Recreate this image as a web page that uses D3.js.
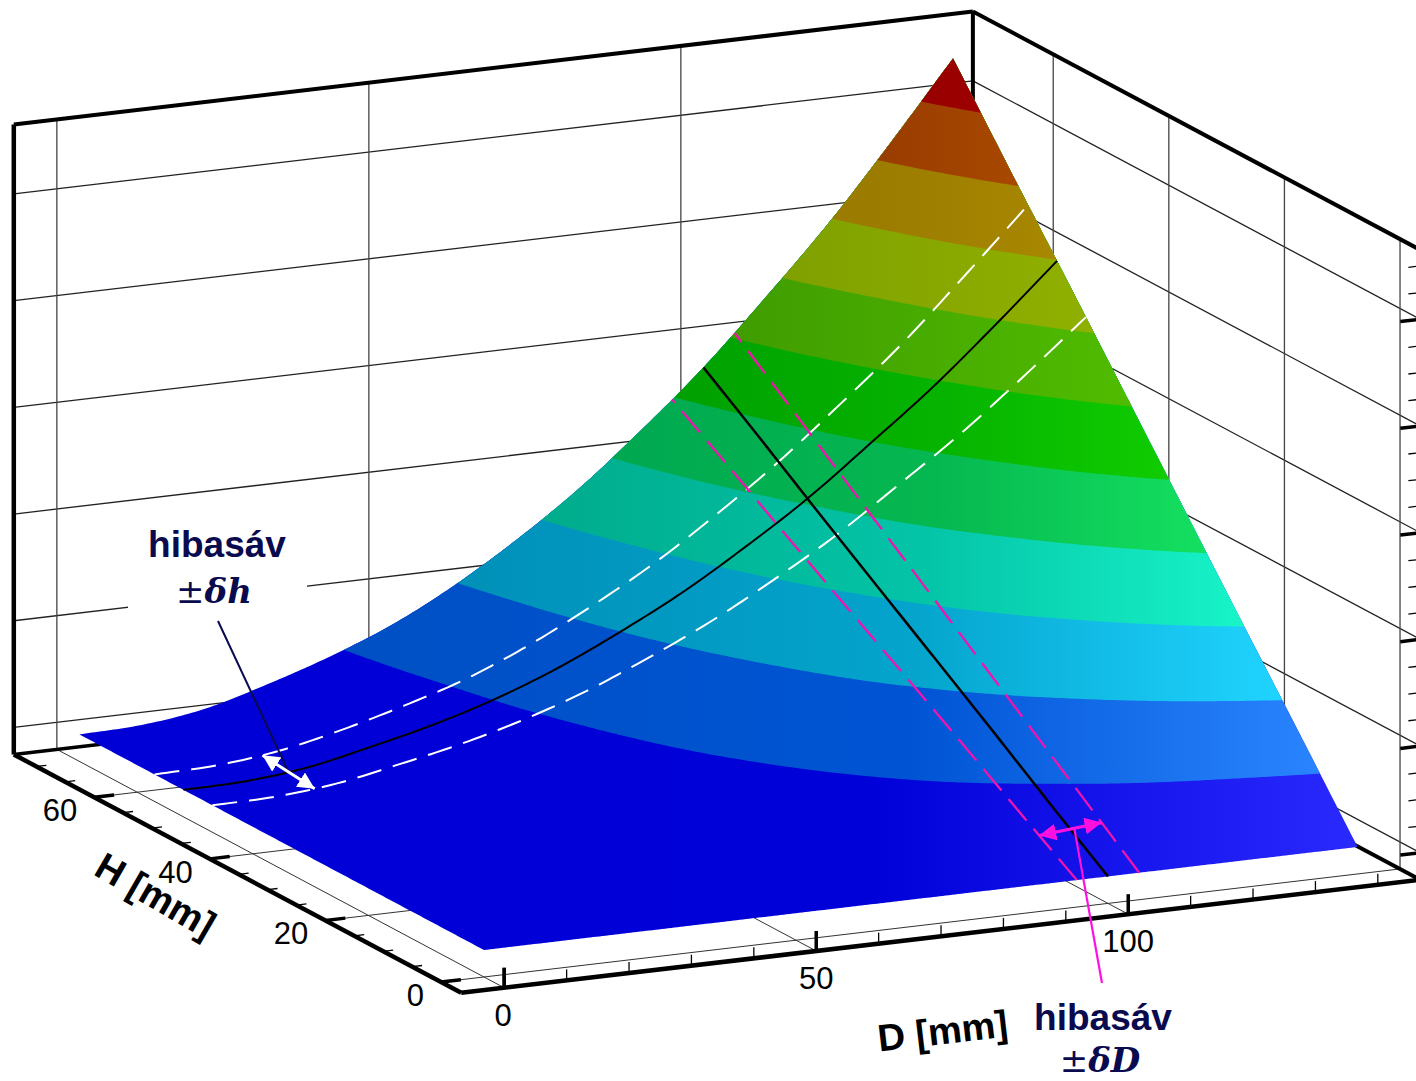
<!DOCTYPE html>
<html lang="en">
<head>
<meta charset="UTF-8">
<title>Hibasav surface</title>
<script src="https://cdn.jsdelivr.net/npm/d3@7"></script>
<style>
    html, body { margin: 0; background: #fff; }
    svg { display: block; }
    text { font-family: "Liberation Sans", Arial, sans-serif; fill: #000; }
    .note { fill: #0a0a4e; font-weight: bold; font-size: 37px; text-anchor: middle; }
    .math { font-family: "DejaVu Serif", serif; font-size: 34px; }
</style>
</head>
<body>
<div id="out01"></div>
<script>
// surface height, one row per H, one column per D
const D_VALUES = [0, 10, 20, 30, 40, 50, 60, 70, 80, 90, 100, 110, 120, 130, 140];
const H_VALUES = [0, 10, 20, 30, 40, 50, 60, 70];
const Z_H0  = [0, 0, 0, 0, 0, 0, 0, 0, 0, 0, 0, 0, 0, 0, 0];
const Z_H10 = [0, 0, .01, .04, .06, .10, .14, .19, .25, .32, .39, .48, .57, .66, .77];
const Z_H20 = [0, .01, .03, .07, .13, .19, .28, .38, .50, .64, .79, .95, 1.13, 1.33, 1.53];
const Z_H30 = [0, .01, .04, .11, .19, .29, .42, .57, .75, .96, 1.18, 1.43, 1.70, 1.99, 2.30];
const Z_H40 = [0, .01, .06, .15, .26, .39, .56, .77, 1.00, 1.27, 1.57, 1.91, 2.26, 2.66, 3.07];
const Z_H50 = [0, .01, .07, .19, .32, .49, .70, .96, 1.25, 1.59, 1.96, 2.39, 2.83, 3.32, 3.84];
const Z_H60 = [0, .02, .09, .22, .39, .58, .84, 1.15, 1.50, 1.91, 2.36, 2.86, 3.39, 3.99, 4.60];
const Z_H70 = [0, .02, .10, .26, .45, .68, .98, 1.34, 1.75, 2.23, 2.75, 3.34, 3.96, 4.65, 5.37];
const Z_ROWS = [Z_H0, Z_H10, Z_H20, Z_H30, Z_H40, Z_H50, Z_H60, Z_H70];

// contour levels and the colour of each band, left, middle and lit right side
const LEVELS = [-1, .5, 1, 1.5, 2, 2.5, 3, 3.5, 4, 4.5, 5];
const BAND_LEFT  = ["#0000d6", "#0050c4", "#0090b8", "#00ac8c", "#00a850", "#00a000", "#409c00", "#80a000", "#9a7a00", "#983c00", "#960000"];
const BAND_MID   = ["#0000d8", "#0054d4", "#04a4cc", "#04c4a8", "#06b850", "#06b400", "#48ac00", "#88a800", "#a08000", "#a04200", "#9a0000"];
const BAND_RIGHT = ["#2a2aff", "#2a84ff", "#20d4ff", "#18f4c8", "#14e060", "#10cc00", "#50bc00", "#90b000", "#a88800", "#a84800", "#a00000"];
const BAND_KNEE  = [.62, .58, .55, .55, .55, .55, .5, .5, .5, .5, .5];

// axis box limits and ticks
const D_RANGE = [-6.9, 146.8];
const H_RANGE = [-3.5, 73.9];
const Z_RANGE = [-.253, 5.65];
const D_MAJOR = [0, 50, 100];
const D_MINOR = [0, 10, 20, 30, 40, 60, 70, 80, 90, 110, 120, 130, 140];
const H_MAJOR = [0, 20, 40, 60];
const H_MINOR = [5, 10, 15, 25, 30, 35, 45, 50, 55, 65, 70];
const Z_MAJOR = [0, 1, 2, 3, 4, 5];
const Z_MINOR = [.25, .5, .75, 1.25, 1.5, 1.75, 2.25, 2.5, 2.75, 3.25, 3.5, 3.75, 4.25, 4.5, 4.75, 5.25, 5.5];

// lines on the surface
const H_LINE = 52, H_BAND = [47, 57];
const D_LINE = 100, D_BAND = [95, 105];

const width = 1416, height = 1081;
const ORIGIN = [484, 977];

// affine view of the box, each axis has its own x and y screen shift
const xOfD = d3.scaleLinear().domain([0, 100]).range([0, 624]);
const yOfD = d3.scaleLinear().domain([0, 100]).range([0, -73.6]);
const xOfH = d3.scaleLinear().domain([0, 60]).range([0, -346.8]);
const yOfH = d3.scaleLinear().domain([0, 60]).range([0, -184.8]);
const yOfZ = d3.scaleLinear().domain([0, 5]).range([-27, -560.5]);

const project = (d, h, z) => [
    ORIGIN[0] + xOfD(d) + xOfH(h),
    ORIGIN[1] + yOfD(d) + yOfH(h) + yOfZ(z)
];
const floorZ = Z_RANGE[0];

const clamp = (v, lo, hi) => Math.max(lo, Math.min(hi, v));

// catmull rom along D, straight along H
const surfaceZ = (d, h) => {
    const hPos = clamp(h / 10, 0, H_VALUES.length - 1.001);
    const hi = Math.floor(hPos), ht = hPos - hi;
    const along = row => {
        const pos = clamp(d / 10, 0, D_VALUES.length - 1.0001);
        const i = Math.floor(pos), t = pos - i;
        const p1 = row[i], p2 = row[i + 1];
        const p0 = i > 0 ? row[i - 1] : 2 * p1 - p2;
        const p3 = i + 2 < row.length ? row[i + 2] : 2 * p2 - p1;
        return .5 * (2 * p1 + (p2 - p0) * t + (2 * p0 - 5 * p1 + 4 * p2 - p3) * t * t + (3 * p1 - p0 - 3 * p2 + p3) * t * t * t);
    };
    return along(Z_ROWS[hi]) * (1 - ht) + along(Z_ROWS[hi + 1]) * ht;
};

const line = d3.line();
const svg = d3.select("#out01").append("svg").attr("width", width).attr("height", height);
svg.append("rect").attr("width", width).attr("height", height).attr("fill", "#fff");

const segment = (g, a, b, w, color) => g.append("path")
    .attr("d", line([a, b])).attr("fill", "none")
    .attr("stroke", color).attr("stroke-width", w);

// walls and floor grid
const back = svg.append("g");
Z_MAJOR.forEach(z => {
    segment(back, project(D_RANGE[0], H_RANGE[1], z), project(D_RANGE[1], H_RANGE[1], z), 1.3, "#222");
    segment(back, project(D_RANGE[1], H_RANGE[1], z), project(D_RANGE[1], H_RANGE[0], z), 1.3, "#222");
});
D_MAJOR.forEach(d => {
    segment(back, project(d, H_RANGE[1], floorZ), project(d, H_RANGE[1], Z_RANGE[1]), 1.3, "#444");
    segment(back, project(d, H_RANGE[0], floorZ), project(d, H_RANGE[1], floorZ), 1, "#333");
});
H_MAJOR.forEach(h => {
    segment(back, project(D_RANGE[1], h, floorZ), project(D_RANGE[1], h, Z_RANGE[1]), 1.3, "#444");
    segment(back, project(D_RANGE[0], h, floorZ), project(D_RANGE[1], h, floorZ), 1, "#333");
});

// white patch behind the left note
back.append("rect").attr("x", 128).attr("y", 524).attr("width", 179).attr("height", 96).attr("fill", "#fff");

// box edges that run behind the surface
const corner = (d, h, z) => project(D_RANGE[d], H_RANGE[h], z === 0 ? floorZ : Z_RANGE[1]);
segment(back, corner(0, 1, 0), corner(1, 1, 0), 3.5, "#000");
segment(back, corner(1, 1, 0), corner(1, 0, 0), 4, "#000");
segment(back, corner(1, 1, 0), corner(1, 1, 1), 4, "#000");

// surface bands
const DN = 281, HN = 141, STEP = .5;
const grid = new Float64Array(DN * HN);
for (let j = 0; j < HN; j++) {
    for (let i = 0; i < DN; i++) {
        grid[j * DN + i] = surfaceZ(i * STEP, j * STEP);
    }
}
const contours = d3.contours().size([DN, HN]).thresholds(LEVELS)(grid);
const defs = svg.append("defs");
LEVELS.forEach((lv, k) => {
    const grad = defs.append("linearGradient").attr("id", `band${k}`)
        .attr("x1", 0).attr("x2", 1).attr("y1", 0).attr("y2", 0);
    grad.append("stop").attr("offset", 0).attr("stop-color", BAND_LEFT[k]);
    grad.append("stop").attr("offset", BAND_KNEE[k]).attr("stop-color", BAND_MID[k]);
    grad.append("stop").attr("offset", 1).attr("stop-color", BAND_RIGHT[k]);
});
const toScreen = p => {
    const d = clamp((p[0] - .5) * STEP, 0, 140);
    const h = clamp((p[1] - .5) * STEP, 0, 70);
    return project(d, h, surfaceZ(d, h));
};
svg.append("g").selectAll("path").data(contours).join("path")
    .attr("d", c => c.coordinates.map(poly => poly.map(ring => line(ring.map(toScreen)) + "Z").join("")).join(""))
    .attr("fill", (c, k) => `url(#band${k})`);

// lines lying on the surface
const overD = d3.range(0, 140.5, 1);
const overH = d3.range(0, 70.5, 1);
const alongD = h => line(overD.map(d => project(d, h, surfaceZ(d, h))));
const alongH = d => line(overH.map(h => project(d, h, surfaceZ(d, h))));
const onSurface = svg.append("g").attr("fill", "none");
H_BAND.forEach(h => onSurface.append("path").attr("d", alongD(h))
    .attr("stroke", "#fff").attr("stroke-width", 2).attr("stroke-dasharray", "25 12"));
D_BAND.forEach(d => onSurface.append("path").attr("d", alongH(d))
    .attr("stroke", "#f014b0").attr("stroke-width", 2.3).attr("stroke-dasharray", "28 11"));
onSurface.append("path").attr("d", alongD(H_LINE)).attr("stroke", "#000").attr("stroke-width", 2);
onSurface.append("path").attr("d", alongH(D_LINE)).attr("stroke", "#000").attr("stroke-width", 2.5);

// front box edges and ticks
const front = svg.append("g");
segment(front, corner(0, 1, 0), corner(0, 0, 0), 4.5, "#000");
segment(front, corner(0, 0, 0), corner(1, 0, 0), 4.5, "#000");
segment(front, corner(0, 1, 0), corner(0, 1, 1), 4.5, "#000");
segment(front, corner(0, 1, 1), corner(1, 1, 1), 4, "#000");
segment(front, corner(1, 1, 1), corner(1, 0, 1), 4, "#000");

const dStart = d => project(d, H_RANGE[0], floorZ);
const hStart = h => project(D_RANGE[0], h, floorZ);
const zStart = z => project(D_RANGE[1], H_RANGE[0], z);
D_MAJOR.concat(D_MINOR).forEach(d => {
    const major = D_MAJOR.includes(d);
    const [x, y] = dStart(d);
    segment(front, [x, y], [x, y - (major ? 20 : 11)], major ? 3.5 : 1.3, "#000");
});
// short ticks step along the D direction
const tickEnd = (p, mm) => [p[0] + xOfD(mm), p[1] + yOfD(mm)];
H_MAJOR.forEach(h => segment(front, hStart(h), tickEnd(hStart(h), 3.2), 3.5, "#000"));
H_MINOR.forEach(h => segment(front, hStart(h), tickEnd(hStart(h), 1.6), 1.3, "#000"));
Z_MAJOR.forEach(z => segment(front, zStart(z), tickEnd(zStart(z), -3.2), 3.5, "#000"));
Z_MINOR.forEach(z => segment(front, zStart(z), tickEnd(zStart(z), -1.9), 1.3, "#000"));

// tick labels
D_MAJOR.forEach(d => {
    const [x, y] = dStart(d);
    front.append("text").attr("x", x - (d === 0 ? 1 : 0)).attr("y", y + 38)
        .attr("text-anchor", "middle").attr("font-size", 31).text(d);
});
H_MAJOR.forEach(h => {
    const [x, y] = hStart(h);
    front.append("text").attr("x", x - 17).attr("y", y + 24)
        .attr("text-anchor", "end").attr("font-size", 31).text(h);
});

// axis titles
front.append("text").attr("transform", "translate(154,898) rotate(30)")
    .attr("text-anchor", "middle").attr("dominant-baseline", "middle")
    .attr("font-size", 38).attr("font-weight", "bold").attr("fill", "#111").text("H [mm]");
front.append("text").attr("transform", "translate(943,1034) rotate(-6.7)")
    .attr("text-anchor", "middle").attr("dominant-baseline", "middle")
    .attr("font-size", 38).attr("font-weight", "bold").attr("fill", "#111").text("D [mm]");

// notes and arrows
const head = (id, color, w, h) => defs.append("marker").attr("id", id)
    .attr("viewBox", "0 0 10 10").attr("refX", 10).attr("refY", 5)
    .attr("markerUnits", "userSpaceOnUse").attr("markerWidth", w).attr("markerHeight", h)
    .attr("orient", "auto-start-reverse").attr("preserveAspectRatio", "none")
    .append("path").attr("d", "M0,0L10,5L0,10Z").attr("fill", color);
head("headWhite", "#fff", 17, 17);
head("headPink", "#ff10e0", 17, 17);

const note = svg.append("g");
const whiteA = project(17.3, H_BAND[1], surfaceZ(17.3, H_BAND[1]));
const whiteB = project(16.4, H_BAND[0], surfaceZ(16.4, H_BAND[0]));
const pinkA = project(D_BAND[0], 6.5, surfaceZ(D_BAND[0], 6.5));
const pinkB = project(D_BAND[1], 6.5, surfaceZ(D_BAND[1], 6.5));
const midpoint = (a, b, dx = 0) => [(a[0] + b[0]) / 2 + dx, (a[1] + b[1]) / 2];

segment(note, [218, 621], midpoint(whiteA, whiteB), 2, "#0a0a4e");
note.append("path").attr("d", line([whiteA, whiteB])).attr("stroke", "#fff").attr("stroke-width", 3)
    .attr("marker-start", "url(#headWhite)").attr("marker-end", "url(#headWhite)");
segment(note, midpoint(pinkA, pinkB, 4), [1102, 983], 2.2, "#ff10e0");
note.append("path").attr("d", line([pinkA, pinkB])).attr("stroke", "#ff10e0").attr("stroke-width", 3.2)
    .attr("marker-start", "url(#headPink)").attr("marker-end", "url(#headPink)");

const writeNote = (cx, y, gap, symbol) => {
    note.append("text").attr("class", "note").attr("x", cx).attr("y", y).text("hibasáv");
    const t = note.append("text").attr("class", "note math").attr("x", cx - 3).attr("y", y + gap);
    t.append("tspan").attr("font-weight", "normal").text("±");
    t.append("tspan").attr("font-style", "italic").text("δ" + symbol);
};
writeNote(217, 557, 46, "h");
writeNote(1103, 1030, 42, "D");
</script>
</body>
</html>
